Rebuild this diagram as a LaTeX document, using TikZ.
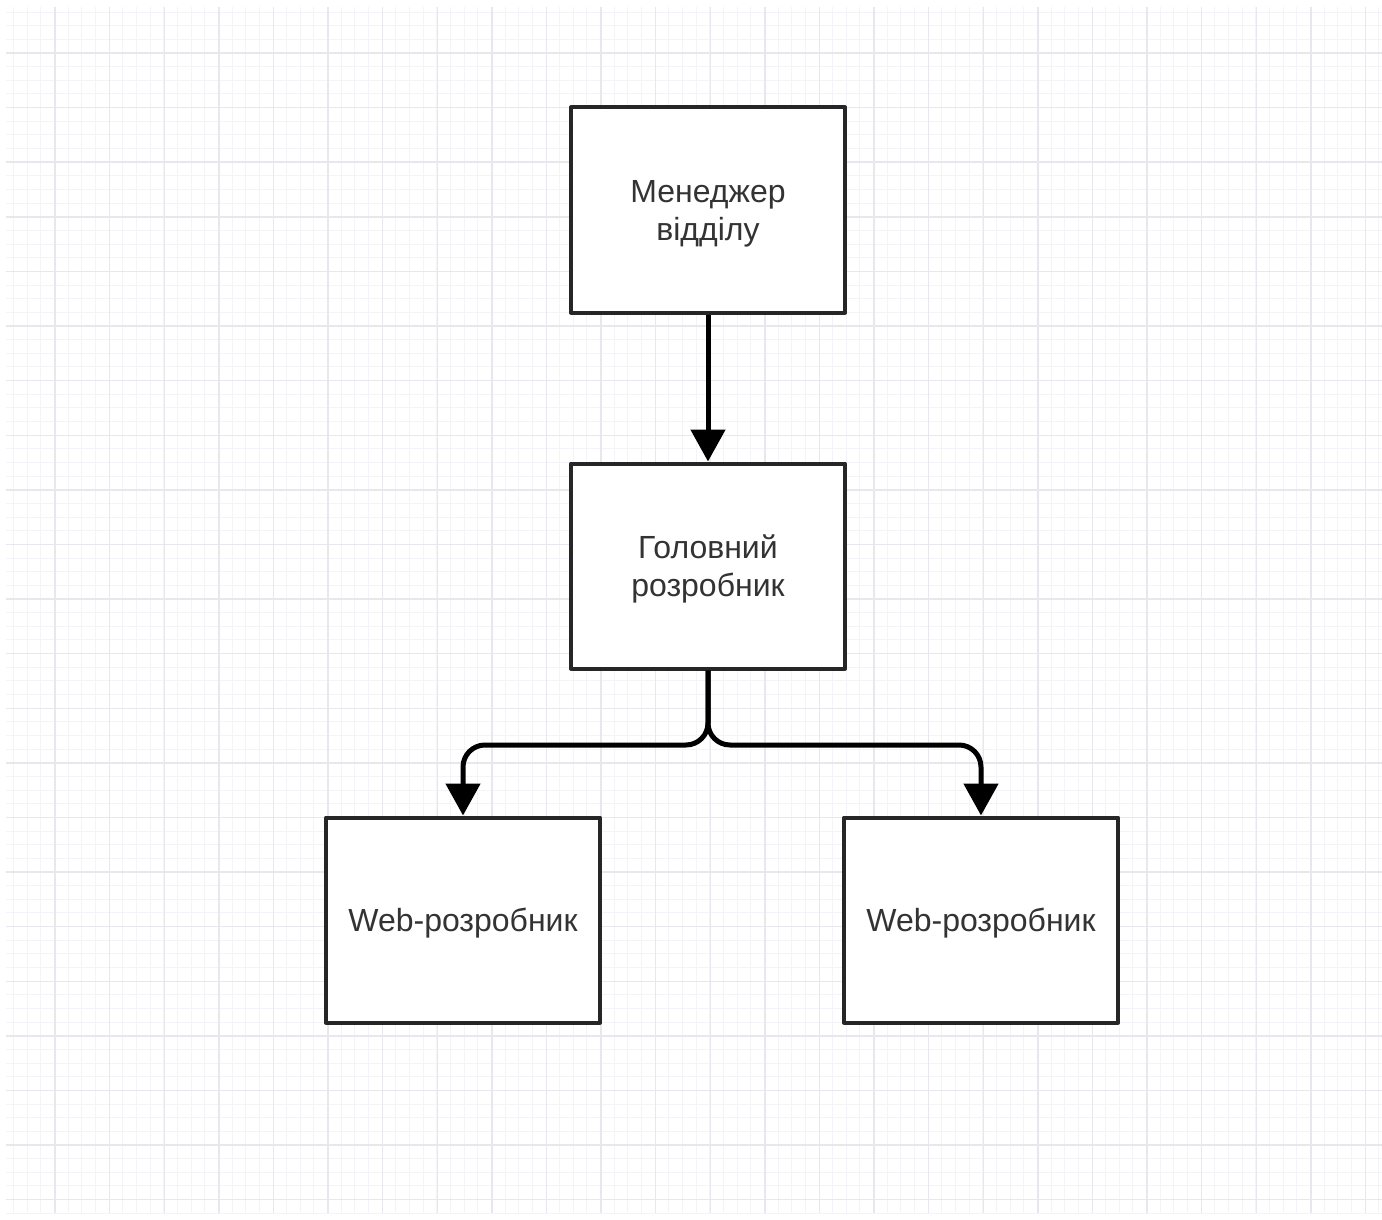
\documentclass[tikz,border=0pt]{standalone}
\usepackage{fontspec}
\setmainfont{Liberation Sans}
\usetikzlibrary{arrows.meta}
\definecolor{gridminor}{HTML}{F4F4F8}
\definecolor{gridmajor}{HTML}{E7E7EE}
\definecolor{txtgray}{HTML}{333333}
\tikzset{
    unit/.style={draw=black!85, line width=2pt, fill=white, minimum width=137pt,
        minimum height=102.5pt, align=center, text=txtgray, text depth=0pt,
        font=\fontsize{16}{19}\selectfont},
    conn/.style={line width=2.5pt, -{Triangle[length=16pt,width=17pt]}}
}
\begin{document}
\begin{tikzpicture}[x=0.5pt,y=-0.5pt,line join=round]
    \useasboundingbox (0,0) rectangle (1382,1220);
    \fill[white] (0,0) rectangle (1382,1220);
    \begin{scope}
        \def \xmin{6}
        \def \xmax{1382}
        \def \ymin{7}
        \def \ymax{1213}
        \clip (\xmin,\ymin) rectangle (\xmax,\ymax);
        \foreach \gx in {0,13.65,...,1390}
            \draw[gridminor, line width=0.5pt] (\gx,\ymin)--(\gx,\ymax);
        \foreach \gy in {-1.6,12.05,...,1220}
            \draw[gridminor, line width=0.5pt] (\xmin,\gy)--(\xmax,\gy);
        \foreach \gx in {0.4,55,...,1390}
            \draw[gridmajor, line width=0.7pt] (\gx,\ymin)--(\gx,\ymax);
        \foreach \gy in {-1.6,53,...,1220}
            \draw[gridmajor, line width=0.7pt] (\xmin,\gy)--(\xmax,\gy);
    \end{scope}
    \node[unit] (manager) at (708,210) {Менеджер\\відділу};
    \node[unit] (lead) at (708,566) {Головний\\розробник};
    \node[unit] (webl) at (463,920) {Web-розробник};
    \node[unit] (webr) at (981,920) {Web-розробник};
    \coordinate (split) at (708,745);
    \draw[conn] (manager) -- (lead);
    \draw[conn, rounded corners=11pt] (lead.south) -- (split) -| (webl.north);
    \draw[conn, rounded corners=11pt] (lead.south) -- (split) -| (webr.north);
\end{tikzpicture}
\end{document}
